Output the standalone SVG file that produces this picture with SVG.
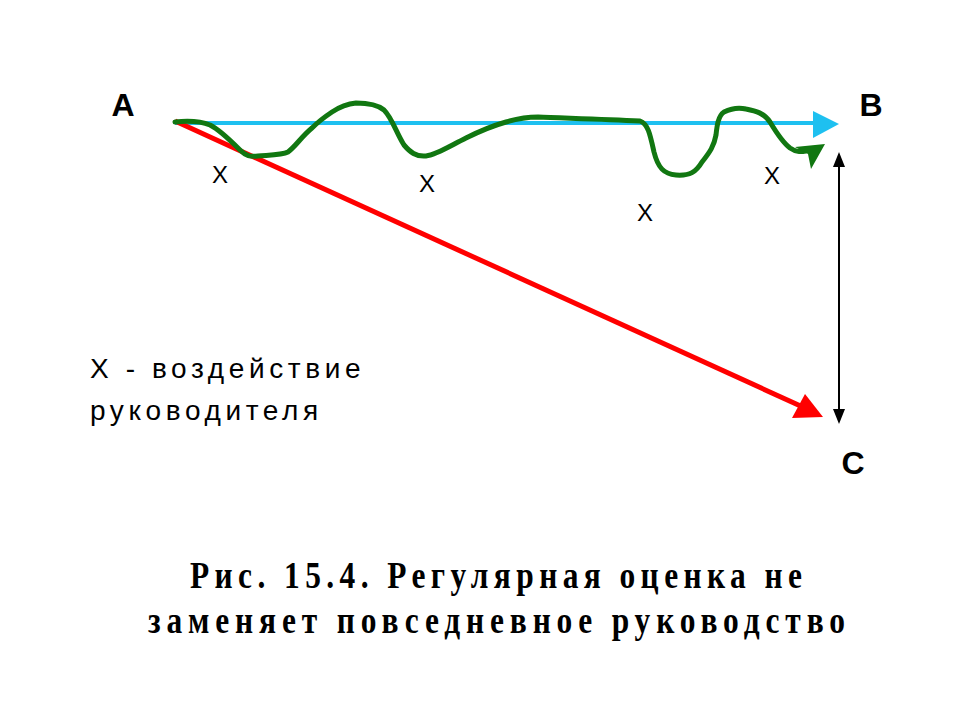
<svg xmlns="http://www.w3.org/2000/svg" width="959" height="719" viewBox="0 0 959 719">
<style>
.pt{font-family:"Liberation Sans",Arial,sans-serif;font-weight:bold;font-size:32px;fill:#000;text-anchor:middle}
.x{font-family:"Liberation Sans",Arial,sans-serif;font-size:24px;fill:#000;text-anchor:middle}
.leg{font-family:"Liberation Sans",Arial,sans-serif;font-size:28px;fill:#000;letter-spacing:4.6px}
.cap{font-family:"Liberation Serif","Times New Roman",serif;font-weight:bold;font-size:37px;fill:#000}
</style>
<rect width="959" height="719" fill="#fff"/>
<g id="connectors">
<g id="blue">
<line x1="175" y1="123" x2="815" y2="123" stroke="#1ec0f0" stroke-width="4"/>
<polygon points="839,124 813,111 813,138" fill="#1ec0f0"/>
</g>
<g id="red">
<line x1="175" y1="121" x2="805" y2="408" stroke="#ff0000" stroke-width="5"/>
<polygon points="823,417 792,418 805,394" fill="#ff0000"/>
</g>
<g id="green">
<path d="M175,122 C185,121 200,121 210,125 C220,130 230,140 240,150 C246,156 250,157 258,156 C270,155 282,155 288,152 C296,146 302,136 312,128 C320,120 326,116 332,112 C338,108 346,104 356,103 C366,103 378,105 384,110 C392,118 396,132 404,145 C410,152 416,157 426,156 C436,155 450,146 466,138 C480,131 492,126 506,122 C516,119 526,117 538,117 C560,118 600,119 640,121 C648,124 650,134 654,152 C658,168 664,174 676,175 C690,176 696,172 702,162 C710,152 714,146 716,135 C717,126 718,116 724,112 C730,109 738,107 746,109 C756,111 764,113 770,122 C776,132 782,142 790,148 C796,152 800,152 806,151" fill="none" stroke="#117711" stroke-width="5" stroke-linecap="round" stroke-linejoin="round"/>
<polygon points="825,144 811,169 808,154 795,147" fill="#117711"/>
</g>
<g id="bc">
<line x1="839" y1="163" x2="839" y2="413" stroke="#000" stroke-width="2"/>
<polygon points="839,152 833,167 845,167" fill="#000"/>
<polygon points="839,424 833,409 845,409" fill="#000"/>
</g>
</g>
<g id="A"><text class="pt" x="123" y="116">A</text></g>
<g id="B"><text class="pt" x="871" y="116">B</text></g>
<g id="C"><text class="pt" x="853" y="474">C</text></g>
<g id="marks">
<text class="x" x="220" y="183">X</text>
<text class="x" x="427" y="192">X</text>
<text class="x" x="645" y="221">X</text>
<text class="x" x="772" y="184">X</text>
</g>
<g id="legend">
<text class="leg" x="90" y="378">X - воздействие</text>
<text class="leg" x="90" y="420">руководителя</text>
</g>
<g id="caption">
<text class="cap" transform="scale(0.85 1)" x="223.5" y="588" textLength="720" lengthAdjust="spacing">Рис. 15.4. Регулярная оценка не</text>
<text class="cap" transform="scale(0.85 1)" x="174.1" y="633" textLength="820" lengthAdjust="spacing">заменяет повседневное руководство</text>
</g>
</svg>
